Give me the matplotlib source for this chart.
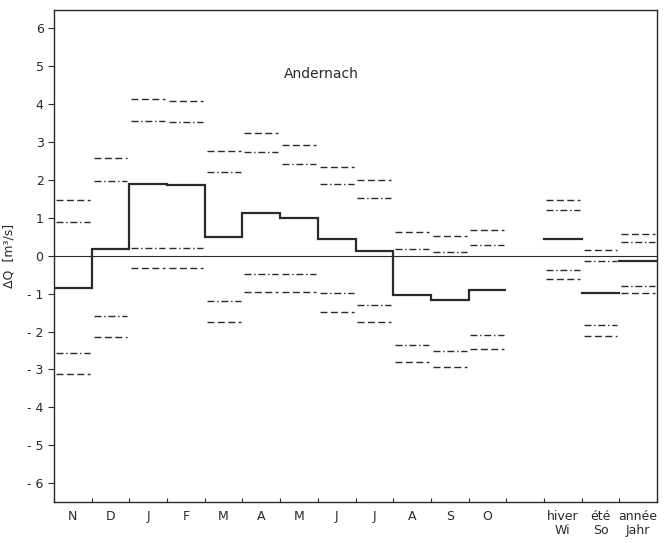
import matplotlib
matplotlib.use("Agg")
import matplotlib.pyplot as plt
import numpy as np

months = ["N", "D", "J", "F", "M", "A", "M", "J", "J", "A", "S", "O"]
seasons = ["hiver\nWi", "été\nSo", "année\nJahr"]

# monthly mean change and confidence bounds
mean_m = [-0.85, 0.17, 1.90, 1.87, 0.50, 1.13, 1.00, 0.43, 0.12, -1.03, -1.16, -0.90]
up_dash_m = [1.47, 2.57, 4.13, 4.08, 2.77, 3.25, 2.93, 2.35, 1.99, 0.63, 0.51, 0.69]
up_dd_m = [0.88, 1.97, 3.57, 3.53, 2.20, 2.73, 2.43, 1.90, 1.53, 0.19, 0.09, 0.29]
lo_dd_m = [-2.58, -1.60, 0.20, 0.20, -1.20, -0.48, -0.48, -0.99, -1.30, -2.35, -2.51, -2.09]
lo_dash_m = [-3.13, -2.15, -0.33, -0.33, -1.75, -0.96, -0.96, -1.49, -1.75, -2.81, -2.93, -2.46]

# seasonal / annual values
mean_s = [0.44, -0.97, -0.13]
up_dash_s = [1.48, 0.16, 0.58]
up_dd_s = [1.20, -0.13, 0.35]
lo_dd_s = [-0.37, -1.84, -0.79]
lo_dash_s = [-0.62, -2.13, -0.99]

col = "#2a2a2a"

fig = plt.figure(figsize=(6.7, 5.43), dpi=100)
ax = fig.add_axes([0.0806, 0.0755, 0.9, 0.907])

# step line for the months
xs = np.arange(len(months) + 1)
ax.stairs(mean_m, xs, color=col, lw=1.6, baseline=None)

# seasonal means, positions 13..15
sx = np.arange(13, 16)
for i in range(3):
    ax.plot([sx[i], sx[i] + 1], [mean_s[i], mean_s[i]], color=col, lw=1.6)

def bounds(x0, vals, ls):
    for i, v in enumerate(vals):
        ax.plot([x0[i] + 0.05, x0[i] + 0.95], [v, v], color=col, lw=1.0, ls=ls)

mx = np.arange(len(months))
for vals in (up_dash_m, lo_dash_m):
    bounds(mx, vals, (0, (5, 2.5)))
for vals in (up_dd_m, lo_dd_m):
    bounds(mx, vals, (0, (5, 2, 1, 2)))
for vals in (up_dash_s, lo_dash_s):
    bounds(sx, vals, (0, (5, 2.5)))
for vals in (up_dd_s, lo_dd_s):
    bounds(sx, vals, (0, (5, 2, 1, 2)))

ax.axhline(0, color=col, lw=0.8)

ax.set_xlim(0, 16)
ax.set_ylim(-6.5, 6.5)
ax.set_yticks(range(-6, 7))
ax.set_yticklabels([str(v) if v >= 0 else "- " + str(-v) for v in range(-6, 7)])
ax.set_xticks(range(17))
ax.set_xticklabels([])
ax.tick_params(axis="y", direction="out", length=4, labelsize=9, colors=col)
ax.tick_params(axis="x", direction="in", length=3, colors=col)

labels = months + [""] + seasons
for i, lab in enumerate(labels):
    ax.text(i + 0.5, -6.72, lab, ha="center", va="top", fontsize=9, color=col,
            linespacing=1.1)

ax.text(7.1, 4.8, "Andernach", ha="center", va="center", fontsize=10, color=col)
ax.set_ylabel("ΔQ  [m³/s]", fontsize=9, color=col, labelpad=8)

for s in ax.spines.values():
    s.set_color(col)
    s.set_linewidth(1.0)

fig.savefig("out.png", dpi=100)
